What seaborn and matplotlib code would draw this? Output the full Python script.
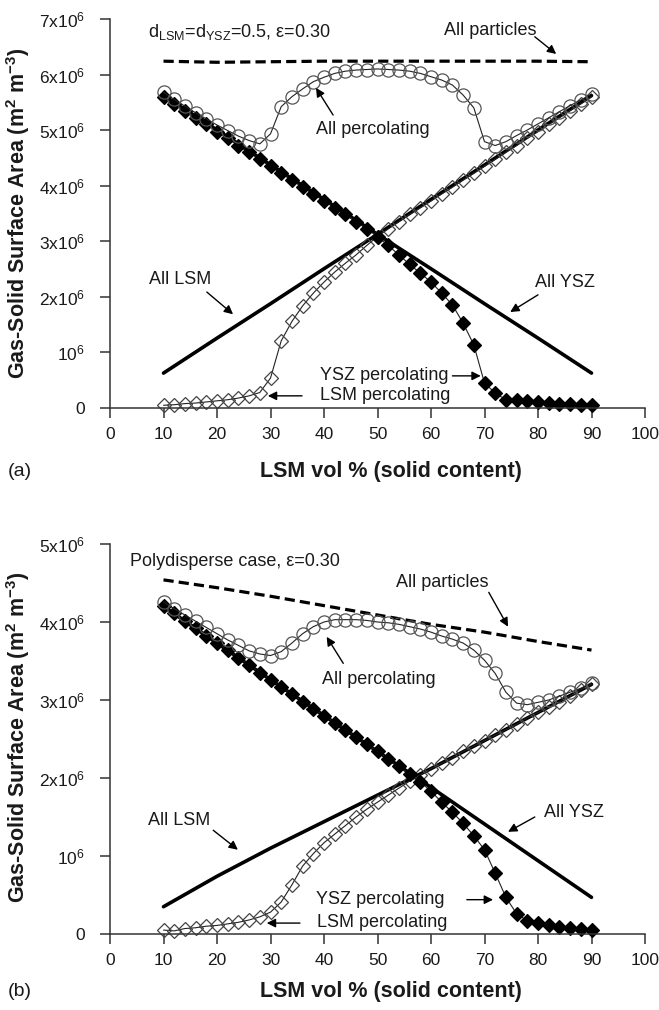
import matplotlib
matplotlib.use("Agg")
import matplotlib.pyplot as plt
import seaborn as sns

# ---------------- data ----------------
x_pts = [10, 12, 14, 16, 18, 20, 22, 24, 26, 28, 30, 32, 34, 36, 38, 40, 42, 44, 46, 48, 50,
         52, 54, 56, 58, 60, 62, 64, 66, 68, 70, 72, 74, 76, 78, 80, 82, 84, 86, 88, 90]
x_ten = [10, 20, 30, 40, 50, 60, 70, 80, 90]

# panel (a)  (values in units of 10^6 m2 m-3)
a_all_particles = [6.24, 6.22, 6.23, 6.24, 6.24, 6.24, 6.24, 6.24, 6.23]
a_all_lsm = [0.62, 1.25, 1.87, 2.50, 3.12, 3.75, 4.37, 5.00, 5.62]
a_all_ysz = [5.62, 5.00, 4.37, 3.75, 3.12, 2.50, 1.87, 1.25, 0.62]
a_lsm_perc = [0.04, 0.05, 0.07, 0.08, 0.10, 0.12, 0.14, 0.17, 0.21, 0.27, 0.53, 1.20, 1.55, 1.83,
              2.06, 2.26, 2.44, 2.60, 2.75, 2.92, 3.08, 3.22, 3.35, 3.48, 3.60, 3.72, 3.85, 3.97,
              4.10, 4.22, 4.35, 4.47, 4.60, 4.72, 4.85, 4.97, 5.10, 5.22, 5.35, 5.47, 5.60]
a_ysz_perc = [5.60, 5.47, 5.35, 5.22, 5.10, 4.97, 4.85, 4.72, 4.60, 4.47, 4.35, 4.22, 4.10, 3.97,
              3.85, 3.72, 3.60, 3.48, 3.35, 3.22, 3.08, 2.92, 2.75, 2.58, 2.42, 2.26, 2.06, 1.85,
              1.52, 1.13, 0.44, 0.26, 0.14, 0.13, 0.11, 0.10, 0.08, 0.07, 0.06, 0.05, 0.04]
a_all_perc = [5.68, 5.55, 5.43, 5.31, 5.20, 5.09, 4.99, 4.89, 4.81, 4.75, 4.93, 5.42, 5.60, 5.74,
              5.87, 5.95, 6.02, 6.06, 6.08, 6.09, 6.10, 6.09, 6.08, 6.06, 6.02, 5.96, 5.90, 5.81,
              5.63, 5.40, 4.79, 4.72, 4.79, 4.90, 5.00, 5.11, 5.22, 5.33, 5.44, 5.54, 5.65]

# panel (b)
b_all_particles = [4.54, 4.44, 4.33, 4.21, 4.09, 3.97, 3.87, 3.75, 3.64]
b_all_lsm = [0.35, 0.74, 1.10, 1.44, 1.78, 2.12, 2.48, 2.84, 3.20]
b_all_ysz = [4.20, 3.73, 3.26, 2.80, 2.34, 1.88, 1.41, 0.94, 0.47]
b_lsm_perc = [0.05, 0.04, 0.07, 0.08, 0.10, 0.11, 0.13, 0.15, 0.18, 0.22, 0.28, 0.41, 0.63, 0.87,
              1.03, 1.17, 1.28, 1.39, 1.50, 1.60, 1.69, 1.78, 1.87, 1.96, 2.04, 2.12, 2.19, 2.26,
              2.34, 2.41, 2.48, 2.55, 2.62, 2.69, 2.77, 2.84, 2.91, 2.98, 3.05, 3.13, 3.20]
b_ysz_perc = [4.20, 4.11, 4.01, 3.92, 3.82, 3.73, 3.64, 3.54, 3.45, 3.35, 3.26, 3.17, 3.08, 2.98,
              2.89, 2.80, 2.71, 2.62, 2.52, 2.43, 2.34, 2.24, 2.15, 2.05, 1.95, 1.83, 1.69, 1.56,
              1.42, 1.26, 1.08, 0.78, 0.47, 0.26, 0.17, 0.14, 0.11, 0.09, 0.08, 0.06, 0.05]
b_all_perc = [4.26, 4.17, 4.09, 4.01, 3.93, 3.85, 3.77, 3.70, 3.63, 3.59, 3.57, 3.62, 3.73, 3.85,
              3.94, 4.00, 4.03, 4.03, 4.03, 4.02, 4.00, 3.99, 3.97, 3.94, 3.91, 3.87, 3.82, 3.78,
              3.73, 3.64, 3.51, 3.34, 3.10, 2.96, 2.94, 2.97, 3.00, 3.05, 3.10, 3.15, 3.22]

x_ticks = [0, 10, 20, 30, 40, 50, 60, 70, 80, 90, 100]
a_yticks = [0, 1, 2, 3, 4, 5, 6, 7]
a_yticklabels = ["0", "10$^{6}$", "2x10$^{6}$", "3x10$^{6}$", "4x10$^{6}$", "5x10$^{6}$",
                 "6x10$^{6}$", "7x10$^{6}$"]
b_yticks = [0, 1, 2, 3, 4, 5]
b_yticklabels = ["0", "10$^{6}$", "2x10$^{6}$", "3x10$^{6}$", "4x10$^{6}$", "5x10$^{6}$"]

xlabel = "LSM vol % (solid content)"
ylabel = r"Gas-Solid Surface Area (m$^{\mathbf{2}}$ m$^{\mathbf{-3}}$)"

# ---------------- style ----------------
sns.set_style("ticks")
plt.rcParams["font.family"] = ["Liberation Sans", "DejaVu Sans"]
plt.rcParams["mathtext.fontset"] = "custom"
plt.rcParams["mathtext.rm"] = "Liberation Sans"
plt.rcParams["mathtext.it"] = "Liberation Sans:italic"
plt.rcParams["mathtext.bf"] = "Liberation Sans:bold"
plt.rcParams["mathtext.default"] = "regular"

TXT = "#1a1a1a"
fig = plt.figure(figsize=(6.59, 10.10), dpi=100)

W, H = 659.0, 1010.0
ax_a = fig.add_axes([110 / W, 1 - 407.5 / H, 535 / W, 388.5 / H])
ax_b = fig.add_axes([110 / W, 1 - 934 / H, 535 / W, 390 / H])


def line(ax, x, y, **kw):
    sns.lineplot(x=x, y=y, ax=ax, legend=False, estimator=None, sort=False, **kw)


def draw_panel(ax, allp, alsm, aysz, lsmp, yszp, allperc):
    line(ax, x_ten, allp, color="black", linewidth=2.3, linestyle=(0, (3.2, 1.6)))
    line(ax, x_ten, alsm, color="black", linewidth=2.6)
    line(ax, x_ten, aysz, color="black", linewidth=2.6)
    line(ax, x_pts, lsmp, color="#222222", linewidth=0.8, marker="D", markersize=7.3,
         markerfacecolor="none", markeredgecolor="#444444", markeredgewidth=0.9, clip_on=False)
    line(ax, x_pts, yszp, color="#222222", linewidth=0.8, marker="D", markersize=7.3,
         markerfacecolor="black", markeredgecolor="black", markeredgewidth=0.9, clip_on=False)
    line(ax, x_pts, allperc, color="#222222", linewidth=0.8, marker="o", markersize=9.5,
         markerfacecolor="none", markeredgecolor="#555555", markeredgewidth=0.9, clip_on=False)


def style_axes(ax, yticks, yticklabels, ymax):
    ax.set_xlim(0, 100)
    ax.set_ylim(0, ymax)
    ax.set_xticks(x_ticks)
    ax.set_xticklabels([str(t) for t in x_ticks])
    ax.set_yticks(yticks)
    ax.set_yticklabels(yticklabels)
    ax.set_xlabel("")
    ax.set_ylabel("")
    sns.despine(ax=ax)
    for s in ("left", "bottom"):
        ax.spines[s].set_linewidth(1.1)
        ax.spines[s].set_color("#333333")
    ax.tick_params(axis="both", direction="out", length=7, width=1.1, color="#333333",
                   labelsize=12.5, labelcolor=TXT)
    ax.tick_params(axis="x", pad=7)
    ax.tick_params(axis="y", pad=11)


arrow_kw = dict(arrowstyle="-|>", color="black", lw=1.0, mutation_scale=13,
                shrinkA=0, shrinkB=0)


def note(ax, text, xy_text, xy_tail=None, xy_head=None, ha="center"):
    ax.text(xy_text[0], xy_text[1], text, ha=ha, va="center", fontsize=13, color=TXT)
    if xy_tail is not None:
        ax.annotate("", xy=xy_head, xytext=xy_tail, arrowprops=arrow_kw)


# ---------------- panel (a) ----------------
draw_panel(ax_a, a_all_particles, a_all_lsm, a_all_ysz, a_lsm_perc, a_ysz_perc, a_all_perc)
style_axes(ax_a, a_yticks, a_yticklabels, 7)
note(ax_a, r"d$_{\mathrm{LSM}}$=d$_{\mathrm{YSZ}}$=0.5, ε=0.30", (7.1, 6.76), ha="left")
note(ax_a, "All particles", (71.0, 6.80), (79.4, 6.68), (83.4, 6.37))
note(ax_a, "All percolating", (49.2, 5.00), (41.7, 5.27), (38.5, 5.76))
note(ax_a, "All LSM", (13.1, 2.30), (18.1, 2.08), (23.0, 1.68))
note(ax_a, "All YSZ", (85.0, 2.26), (80.0, 2.03), (74.8, 1.72))
note(ax_a, "YSZ percolating", (63.3, 0.57), (64.0, 0.57), (69.3, 0.57), ha="right")
note(ax_a, "LSM percolating", (63.7, 0.21), (35.9, 0.21), (29.5, 0.21), ha="right")

# ---------------- panel (b) ----------------
draw_panel(ax_b, b_all_particles, b_all_lsm, b_all_ysz, b_lsm_perc, b_ysz_perc, b_all_perc)
style_axes(ax_b, b_yticks, b_yticklabels, 5)
note(ax_b, "Polydisperse case, ε=0.30", (3.7, 4.78), ha="left")
note(ax_b, "All particles", (62.1, 4.51), (70.8, 4.38), (74.4, 3.94))
note(ax_b, "All percolating", (50.3, 3.26), (43.6, 3.47), (40.5, 3.81))
note(ax_b, "All LSM", (13.0, 1.46), (19.3, 1.33), (23.9, 1.08))
note(ax_b, "All YSZ", (86.8, 1.56), (79.4, 1.50), (74.4, 1.31))
note(ax_b, "YSZ percolating", (62.6, 0.44), (66.7, 0.44), (71.6, 0.44), ha="right")
note(ax_b, "LSM percolating", (63.0, 0.15), (35.5, 0.14), (29.3, 0.14), ha="right")

# ---------------- labels ----------------
for yc_lab, yc_x, tag in ((1 - 213 / H, 1 - 471 / H, "(a)"), (1 - 737 / H, 1 - 992 / H, "(b)")):
    fig.text(18 / W, yc_lab, ylabel, rotation=90, ha="center", va="center",
             fontsize=15.5, fontweight="bold", color=TXT)
    fig.text(391 / W, yc_x, xlabel, ha="center", va="center",
             fontsize=15.5, fontweight="bold", color=TXT)
    fig.text(8 / W, yc_x, tag, ha="left", va="center", fontsize=14, color=TXT)

fig.savefig("out.png", dpi=100)
